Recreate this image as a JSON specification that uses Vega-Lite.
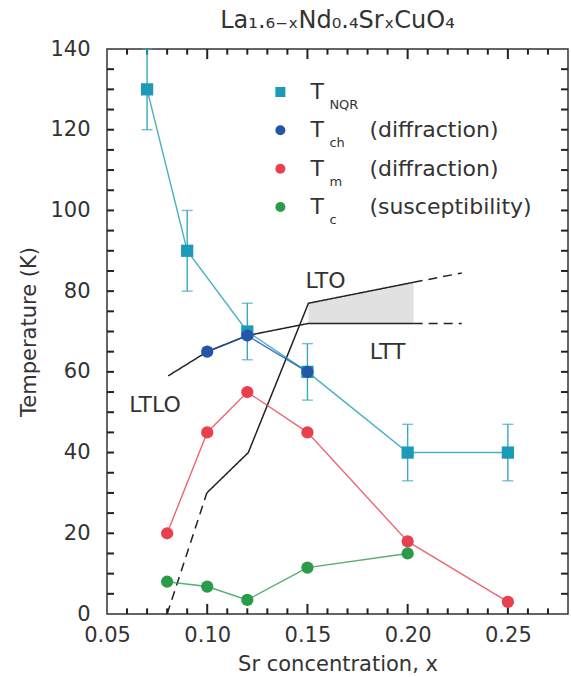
{
  "$schema": "https://vega.github.io/schema/vega-lite/v6.json",
  "width": 461,
  "height": 565,
  "autosize": {"type": "none"},
  "padding": {"left": 107, "top": 49, "right": 3, "bottom": 63},
  "title": {"text": "La₁.₆₋ₓNd₀.₄SrₓCuO₄", "fontSize": 24, "font": "DejaVu Sans", "fontWeight": "normal", "color": "#333", "offset": 5, "anchor": "middle"},
  "datasets": {
    "pts": [
      {"series": "NQR", "x": 0.07, "T": 130, "lo": 120, "hi": 140},
      {"series": "NQR", "x": 0.09, "T": 90, "lo": 80, "hi": 100},
      {"series": "NQR", "x": 0.12, "T": 70, "lo": 63, "hi": 77},
      {"series": "NQR", "x": 0.15, "T": 60, "lo": 53, "hi": 67},
      {"series": "NQR", "x": 0.20, "T": 40, "lo": 33, "hi": 47},
      {"series": "NQR", "x": 0.25, "T": 40, "lo": 33, "hi": 47},
      {"series": "ch", "x": 0.10, "T": 65},
      {"series": "ch", "x": 0.12, "T": 69},
      {"series": "ch", "x": 0.15, "T": 60},
      {"series": "m", "x": 0.08, "T": 20},
      {"series": "m", "x": 0.10, "T": 45},
      {"series": "m", "x": 0.12, "T": 55},
      {"series": "m", "x": 0.15, "T": 45},
      {"series": "m", "x": 0.20, "T": 18},
      {"series": "m", "x": 0.25, "T": 3},
      {"series": "c", "x": 0.08, "T": 8},
      {"series": "c", "x": 0.10, "T": 6.8},
      {"series": "c", "x": 0.12, "T": 3.5},
      {"series": "c", "x": 0.15, "T": 11.5},
      {"series": "c", "x": 0.20, "T": 15}
    ],
    "bound": [
      {"seg": "a", "style": "dashed", "x": 0.080, "T": 0},
      {"seg": "a", "style": "dashed", "x": 0.0998, "T": 30},
      {"seg": "b", "style": "solid", "x": 0.0998, "T": 30},
      {"seg": "b", "style": "solid", "x": 0.1205, "T": 40},
      {"seg": "b", "style": "solid", "x": 0.1505, "T": 77},
      {"seg": "b", "style": "solid", "x": 0.203, "T": 82.2},
      {"seg": "c", "style": "dashed", "x": 0.203, "T": 82.2},
      {"seg": "c", "style": "dashed", "x": 0.227, "T": 84.5},
      {"seg": "d", "style": "solid", "x": 0.0805, "T": 59},
      {"seg": "d", "style": "solid", "x": 0.10, "T": 65},
      {"seg": "d", "style": "solid", "x": 0.12, "T": 69},
      {"seg": "d", "style": "solid", "x": 0.1505, "T": 72},
      {"seg": "d", "style": "solid", "x": 0.203, "T": 72},
      {"seg": "e", "style": "dashed", "x": 0.203, "T": 72},
      {"seg": "e", "style": "dashed", "x": 0.227, "T": 72}
    ],
    "shade": [
      {"x": 0.1505, "lo": 72, "hi": 77},
      {"x": 0.203, "lo": 72, "hi": 82.2}
    ],
    "notes": [
      {"label": "LTO", "x": 0.159, "T": 82.4},
      {"label": "LTT", "x": 0.19, "T": 65},
      {"label": "LTLO", "x": 0.074, "T": 51.8}
    ],
    "xticks": [
      {"v": 0.06, "kind": "minor"}, {"v": 0.07, "kind": "minor"}, {"v": 0.08, "kind": "minor"}, {"v": 0.09, "kind": "minor"},
      {"v": 0.10, "kind": "major"},
      {"v": 0.11, "kind": "minor"}, {"v": 0.12, "kind": "minor"}, {"v": 0.13, "kind": "minor"}, {"v": 0.14, "kind": "minor"},
      {"v": 0.15, "kind": "major"},
      {"v": 0.16, "kind": "minor"}, {"v": 0.17, "kind": "minor"}, {"v": 0.18, "kind": "minor"}, {"v": 0.19, "kind": "minor"},
      {"v": 0.20, "kind": "major"},
      {"v": 0.21, "kind": "minor"}, {"v": 0.22, "kind": "minor"}, {"v": 0.23, "kind": "minor"}, {"v": 0.24, "kind": "minor"},
      {"v": 0.25, "kind": "major"},
      {"v": 0.26, "kind": "minor"}, {"v": 0.27, "kind": "minor"}
    ],
    "yticks": [
      {"v": 5}, {"v": 10}, {"v": 15}, {"v": 20}, {"v": 25}, {"v": 30}, {"v": 35}, {"v": 40}, {"v": 45}, {"v": 50},
      {"v": 55}, {"v": 60}, {"v": 65}, {"v": 70}, {"v": 75}, {"v": 80}, {"v": 85}, {"v": 90}, {"v": 95}, {"v": 100},
      {"v": 105}, {"v": 110}, {"v": 115}, {"v": 120}, {"v": 125}, {"v": 130}, {"v": 135}
    ],
    "legend": [
      {"series": "NQR", "main": "T", "sub": "NQR", "rest": ""},
      {"series": "ch", "main": "T", "sub": "ch", "rest": "(diffraction)"},
      {"series": "m", "main": "T", "sub": "m", "rest": "(diffraction)"},
      {"series": "c", "main": "T", "sub": "c", "rest": "(susceptibility)"}
    ]
  },
  "layer": [
    {
      "layer": [
        {
          "data": {"name": "shade"},
          "mark": {"type": "area", "color": "#dedede", "opacity": 0.9},
          "encoding": {
            "x": {"field": "x", "type": "quantitative", "title": "Sr concentration, x",
              "scale": {"domain": [0.05, 0.28], "nice": false, "zero": false},
              "axis": {"orient": "bottom", "values": [0.05, 0.10, 0.15, 0.20, 0.25], "format": ".2f",
                "ticks": false, "labelPadding": 10, "labelFlush": false, "domain": false, "titlePadding": 8}},
            "y": {"field": "lo", "type": "quantitative", "title": "Temperature (K)",
              "scale": {"domain": [0, 140], "nice": false, "zero": false},
              "axis": {"orient": "left", "values": [0, 20, 40, 60, 80, 100, 120, 140],
                "ticks": false, "labelPadding": 17, "labelFlush": false, "domain": false, "titlePadding": 10}},
            "y2": {"field": "hi"}
          }
        },
        {
          "data": {"name": "xticks"},
          "transform": [{"filter": "datum.kind == 'major'"}],
          "mark": {"type": "rule", "color": "#222", "strokeWidth": 2},
          "encoding": {
            "x": {"field": "v", "type": "quantitative", "scale": {"domain": [0.05, 0.28], "nice": false, "zero": false}},
            "y": {"datum": 0, "type": "quantitative", "scale": {"domain": [0, 140], "nice": false, "zero": false}},
            "y2": {"datum": 2.5}
          }
        },
        {
          "data": {"name": "xticks"},
          "transform": [{"filter": "datum.kind == 'major'"}],
          "mark": {"type": "rule", "color": "#222", "strokeWidth": 2},
          "encoding": {
            "x": {"field": "v", "type": "quantitative", "scale": {"domain": [0.05, 0.28], "nice": false, "zero": false}},
            "y": {"datum": 140, "type": "quantitative", "scale": {"domain": [0, 140], "nice": false, "zero": false}},
            "y2": {"datum": 137.5}
          }
        },
        {
          "data": {"name": "xticks"},
          "transform": [{"filter": "datum.kind == 'minor'"}],
          "mark": {"type": "rule", "color": "#222", "strokeWidth": 2},
          "encoding": {
            "x": {"field": "v", "type": "quantitative", "scale": {"domain": [0.05, 0.28], "nice": false, "zero": false}},
            "y": {"datum": 0, "type": "quantitative", "scale": {"domain": [0, 140], "nice": false, "zero": false}},
            "y2": {"datum": 1.4}
          }
        },
        {
          "data": {"name": "xticks"},
          "transform": [{"filter": "datum.kind == 'minor'"}],
          "mark": {"type": "rule", "color": "#222", "strokeWidth": 2},
          "encoding": {
            "x": {"field": "v", "type": "quantitative", "scale": {"domain": [0.05, 0.28], "nice": false, "zero": false}},
            "y": {"datum": 140, "type": "quantitative", "scale": {"domain": [0, 140], "nice": false, "zero": false}},
            "y2": {"datum": 138.6}
          }
        },
        {
          "data": {"name": "yticks"},
          "mark": {"type": "rule", "color": "#222", "strokeWidth": 2},
          "encoding": {
            "y": {"field": "v", "type": "quantitative", "scale": {"domain": [0, 140], "nice": false, "zero": false}},
            "x": {"datum": 0.05, "type": "quantitative", "scale": {"domain": [0.05, 0.28], "nice": false, "zero": false}},
            "x2": {"datum": 0.0535}
          }
        },
        {
          "data": {"name": "yticks"},
          "mark": {"type": "rule", "color": "#222", "strokeWidth": 2},
          "encoding": {
            "y": {"field": "v", "type": "quantitative", "scale": {"domain": [0, 140], "nice": false, "zero": false}},
            "x": {"datum": 0.28, "type": "quantitative", "scale": {"domain": [0.05, 0.28], "nice": false, "zero": false}},
            "x2": {"datum": 0.2765}
          }
        },
        {
          "data": {"name": "bound"},
          "mark": {"type": "line", "color": "#222", "strokeWidth": 1.5},
          "encoding": {
            "x": {"field": "x", "type": "quantitative", "title": "Sr concentration, x", "scale": {"domain": [0.05, 0.28], "nice": false, "zero": false}},
            "y": {"field": "T", "type": "quantitative", "title": "Temperature (K)", "scale": {"domain": [0, 140], "nice": false, "zero": false}},
            "detail": {"field": "seg"},
            "strokeDash": {"field": "style", "type": "nominal", "scale": {"domain": ["solid", "dashed"], "range": [[1, 0], [9, 6]]}, "legend": null}
          }
        },
        {
          "data": {"name": "pts"},
          "mark": {"type": "line", "strokeWidth": 1.4, "opacity": 0.8},
          "encoding": {
            "x": {"field": "x", "type": "quantitative", "title": "Sr concentration, x", "scale": {"domain": [0.05, 0.28], "nice": false, "zero": false}},
            "y": {"field": "T", "type": "quantitative", "title": "Temperature (K)", "scale": {"domain": [0, 140], "nice": false, "zero": false}},
            "color": {"field": "series", "type": "nominal", "scale": {"domain": ["NQR", "ch", "m", "c"], "range": ["#1b9bb8", "#2456a8", "#e8404f", "#2b9b4a"]}, "legend": null}
          }
        },
        {
          "data": {"name": "pts"},
          "transform": [{"filter": "datum.series == 'NQR'"}],
          "mark": {"type": "errorbar", "color": "#3aa8c0", "thickness": 1.4, "ticks": {"size": 11, "thickness": 1.4, "color": "#3aa8c0"}},
          "encoding": {
            "x": {"field": "x", "type": "quantitative", "title": "Sr concentration, x", "scale": {"domain": [0.05, 0.28], "nice": false, "zero": false}},
            "y": {"field": "lo", "type": "quantitative", "title": "Temperature (K)", "scale": {"domain": [0, 140], "nice": false, "zero": false}},
            "y2": {"field": "hi"}
          }
        },
        {
          "data": {"name": "pts"},
          "mark": {"type": "point", "filled": true, "opacity": 1, "size": 150},
          "encoding": {
            "x": {"field": "x", "type": "quantitative", "title": "Sr concentration, x", "scale": {"domain": [0.05, 0.28], "nice": false, "zero": false}},
            "y": {"field": "T", "type": "quantitative", "title": "Temperature (K)", "scale": {"domain": [0, 140], "nice": false, "zero": false}},
            "color": {"field": "series", "type": "nominal", "legend": null},
            "shape": {"field": "series", "type": "nominal", "scale": {"domain": ["NQR", "ch", "m", "c"], "range": ["square", "circle", "circle", "circle"]}, "legend": null}
          }
        },
        {
          "data": {"name": "notes"},
          "mark": {"type": "text", "fontSize": 22, "color": "#333", "align": "center", "baseline": "middle"},
          "encoding": {
            "x": {"field": "x", "type": "quantitative", "title": "Sr concentration, x", "scale": {"domain": [0.05, 0.28], "nice": false, "zero": false}},
            "y": {"field": "T", "type": "quantitative", "title": "Temperature (K)", "scale": {"domain": [0, 140], "nice": false, "zero": false}},
            "text": {"field": "label"}
          }
        }
      ]
    },
    {
      "data": {"name": "legend"},
      "encoding": {
        "x": {"datum": 0.1365, "type": "quantitative", "scale": {"domain": [0.05, 0.28], "nice": false, "zero": false}, "axis": null},
        "y": {"field": "series", "type": "nominal", "scale": {"type": "point", "domain": ["NQR", "ch", "m", "c"], "range": [43, 158], "padding": 0}, "axis": null}
      },
      "layer": [
        {
          "mark": {"type": "point", "filled": true, "opacity": 1, "size": 100},
          "encoding": {
            "color": {"field": "series", "type": "nominal", "legend": null},
            "shape": {"field": "series", "type": "nominal", "legend": null}
          }
        },
        {
          "mark": {"type": "text", "align": "left", "baseline": "middle", "dx": 30, "fontSize": 22, "color": "#333"},
          "encoding": {"text": {"field": "main"}}
        },
        {
          "mark": {"type": "text", "align": "left", "baseline": "middle", "dx": 49, "dy": 13, "fontSize": 13, "color": "#333"},
          "encoding": {"text": {"field": "sub"}}
        },
        {
          "mark": {"type": "text", "align": "left", "baseline": "middle", "dx": 89, "fontSize": 22, "color": "#333"},
          "encoding": {"text": {"field": "rest"}}
        }
      ]
    }
  ],
  "resolve": {"scale": {"x": "independent", "y": "independent"}},
  "config": {
    "font": "DejaVu Sans",
    "view": {"stroke": "#333", "strokeWidth": 1.5},
    "axis": {"grid": false, "labelFontSize": 21, "titleFontSize": 21, "labelColor": "#333", "titleColor": "#333", "titleFontWeight": "normal", "labelFont": "DejaVu Sans", "titleFont": "DejaVu Sans"},
    "text": {"font": "DejaVu Sans"}
  }
}
